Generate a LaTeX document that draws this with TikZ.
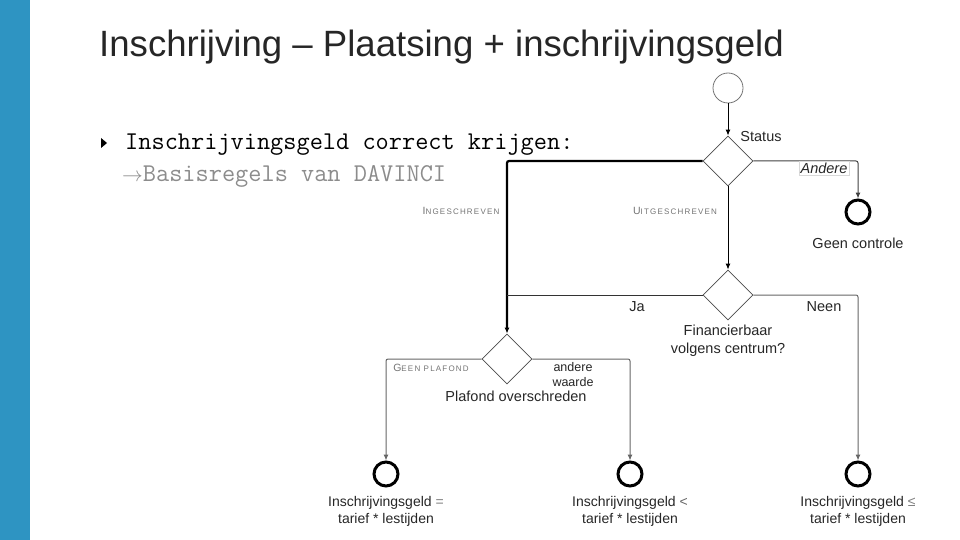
\documentclass[tikz,border=0pt]{standalone}
\usepackage{fontspec}
\setmainfont{Liberation Sans}
\usetikzlibrary{shapes.geometric, arrows.meta, positioning}

\definecolor{barblue}{RGB}{46,148,194}
\definecolor{titlegray}{RGB}{38,38,38}

\newcommand{\fakesc}[2]{{\fontsize{10.5}{12}\selectfont #1}{\fontsize{8}{9}\selectfont\addfontfeature{LetterSpace=15}#2}}

\tikzset{
    decision/.style={diamond, draw=black!70, line width=0.8pt, minimum width=50pt, minimum height=50pt, inner sep=0pt, fill=white},
    startstate/.style={circle, draw=black!55, line width=0.8pt, minimum size=30pt, inner sep=0pt},
    endstate/.style={circle, draw=black, line width=3pt, minimum size=24pt, inner sep=0pt},
    lbl/.style={font=\fontsize{14.5}{18}\selectfont, text=black!85, inner sep=0pt, align=center},
    guard/.style={text=black!55, inner sep=0pt},
    flow/.style={->, >={Latex[length=6pt, width=5pt]}, rounded corners=2pt, line width=1pt},
    bullettext/.style={anchor=west, inner sep=0pt, font=\ttfamily\fontsize{25.6}{30}\selectfont},
}

\begin{document}
\begin{tikzpicture}[x=1pt, y=-1pt, node distance=72pt, on grid]
    \useasboundingbox (0,0) rectangle (960,540);
    \fill[barblue] (0,0) rectangle (30,540);

    % title and bullet
    \node[anchor=west, inner sep=0pt, text=titlegray, font=\fontsize{36.6}{42}\selectfont] (title) at (99,47) {Inschrijving – Plaatsing + inschrijvingsgeld};
    \fill (101,138) -- (107,143) -- (101,148) -- cycle;
    \node[bullettext] (punt) at (125,145) {Inschrijvingsgeld correct krijgen:};
    \node[bullettext, text=black!45] (regels) at (122,176) {{\fontsize{20}{20}\selectfont$\rightarrow$}Basisregels van DAVINCI};

    % states
    \node[startstate] (start) at (728,88) {};
    \node[decision] (status) [below=73pt of start] {};
    \node[endstate] (geenctrl) at (858,212) {};
    \node[decision] (fin) [below=134pt of status] {};
    \node[decision] (plafond) at (507,359) {};
    \node[endstate] (eindGelijk) at (386,474) {};
    \node[endstate] (eindKleiner) at (630,474) {};
    \node[endstate] (eindKleinerGelijk) at (858,474) {};
    \coordinate (samen) at (plafond |- fin);

    % transitions
    \draw[flow] (start) -- (status);
    \draw[flow, line width=2.2pt] (status.west) -| (plafond.north);
    \draw[flow] (status.south) -- (fin.north);
    \draw[flow, draw=black!75] (status.east) -| (geenctrl.north);
    \draw[line width=0.9pt, draw=black!80] (fin.west) -- (samen);
    \draw[flow, draw=black!60] (fin.east) -| (eindKleinerGelijk.north);
    \draw[flow, draw=black!60] (plafond.west) -| (eindGelijk.north);
    \draw[flow, draw=black!60] (plafond.east) -| (eindKleiner.north);

    % labels
    \node[lbl] (statusLbl) at (761,137) {Status};
    \node[lbl, font=\fontsize{14.5}{18}\selectfont\itshape, draw=black!15, inner sep=1.5pt] (andereLbl) at (824,168) {Andere};
    \node[lbl] (geenctrlLbl) at (858,243) {Geen controle};
    \node[guard] (ingLbl) at (461,211) {\fakesc{I}{NGESCHREVEN}};
    \node[guard] (uitLbl) at (675,211) {\fakesc{U}{ITGESCHREVEN}};
    \node[lbl] (jaLbl) at (637,307) {Ja};
    \node[lbl] (neenLbl) at (824,307) {Neen};
    \node[lbl] (finLbl) at (728,341) {Financierbaar\\volgens centrum?};
    \node[guard] (geenplLbl) at (431,368) {\fakesc{G}{EEN PLAFOND}};
    \node[lbl, font=\fontsize{12.5}{15}\selectfont] (andereWLbl) at (573,375) {andere\\waarde};
    \node[lbl] (plafondLbl) at (516,396) {Plafond overschreden};
    \node[lbl, font=\fontsize{14}{17}\selectfont] (gelijkLbl) [below=37pt of eindGelijk] {Inschrijvingsgeld {\color{black!50}=}\\tarief * lestijden};
    \node[lbl, font=\fontsize{14}{17}\selectfont] (kleinerLbl) [below=37pt of eindKleiner] {Inschrijvingsgeld {\color{black!60}<}\\tarief * lestijden};
    \node[lbl, font=\fontsize{14}{17}\selectfont] (kleinerGelijkLbl) [below=37pt of eindKleinerGelijk] {Inschrijvingsgeld {\color{black!50}≤}\\tarief * lestijden};
\end{tikzpicture}
\end{document}
